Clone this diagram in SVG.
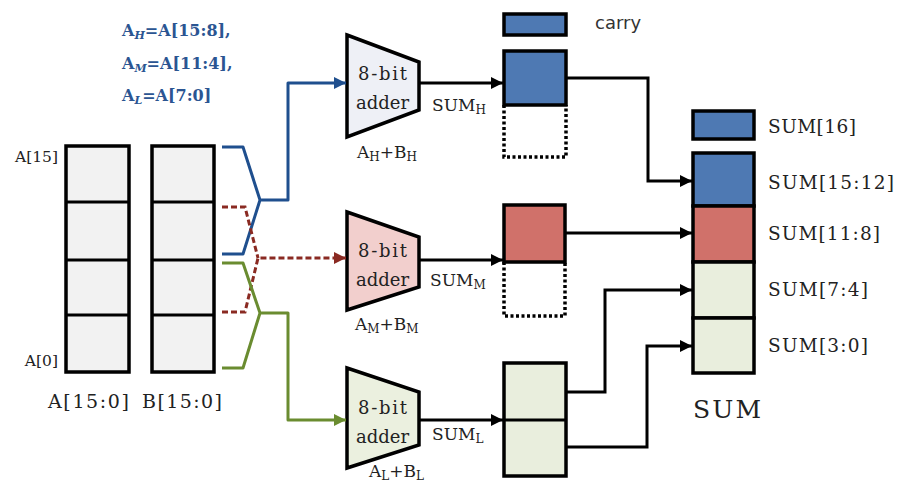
<svg xmlns="http://www.w3.org/2000/svg" width="898" height="486" viewBox="0 0 898 486">
<style>
.t{font-family:"DejaVu Serif","Liberation Serif",serif;fill:#222}
.f{font-family:"DejaVu Serif","Liberation Serif",serif;font-weight:bold;fill:#2b5592;font-size:16px}
.reg{stroke:#000;stroke-width:3.5;fill:#f2f2f2}
.blk{stroke:#000;stroke-width:3;fill:none}
.dot{stroke:#000;stroke-width:3.5;fill:none;stroke-dasharray:3,2.5}
.blu{fill:#4e79b3}
.red{fill:#d0716a}
.grn{fill:#e9eedd}
</style>
<defs>
<marker id="ak" viewBox="0 0 10 10" refX="10" refY="5" markerWidth="13" markerHeight="12" markerUnits="userSpaceOnUse" orient="auto"><path d="M0,0 L10,5 L0,10 z" fill="#000"/></marker>
<marker id="ab" viewBox="0 0 10 10" refX="10" refY="5" markerWidth="13" markerHeight="12" markerUnits="userSpaceOnUse" orient="auto"><path d="M0,0 L10,5 L0,10 z" fill="#1f4f8e"/></marker>
<marker id="ar" viewBox="0 0 10 10" refX="10" refY="5" markerWidth="13" markerHeight="12" markerUnits="userSpaceOnUse" orient="auto"><path d="M0,0 L10,5 L0,10 z" fill="#8a2a22"/></marker>
<marker id="ag" viewBox="0 0 10 10" refX="10" refY="5" markerWidth="13" markerHeight="12" markerUnits="userSpaceOnUse" orient="auto"><path d="M0,0 L10,5 L0,10 z" fill="#6a8c30"/></marker>
</defs>
<rect width="898" height="486" fill="#fff"/>

<g id="formula">
<text class="f" x="122" y="36">A<tspan font-size="11" font-style="italic" dy="3">H</tspan><tspan dy="-3">=A[15:8],</tspan></text>
<text class="f" x="122" y="69">A<tspan font-size="11" font-style="italic" dy="3">M</tspan><tspan dy="-3">=A[11:4],</tspan></text>
<text class="f" x="122" y="101">A<tspan font-size="11" font-style="italic" dy="3">L</tspan><tspan dy="-3">=A[7:0]</tspan></text>
</g>

<g id="regA">
<rect class="reg" x="66" y="146" width="63" height="226"/>
<line class="blk" x1="66" y1="202" x2="129" y2="202"/>
<line class="blk" x1="66" y1="260" x2="129" y2="260" stroke-width="3.5"/>
<line class="blk" x1="66" y1="315" x2="129" y2="315" stroke-width="4.5"/>
<text class="t" x="58" y="162" font-size="15.5" text-anchor="end">A[15]</text>
<text class="t" x="58" y="366" font-size="15.5" text-anchor="end">A[0]</text>
<text class="t" x="48" y="408" font-size="19" textLength="81">A[15:0]</text>
</g>
<g id="regB">
<rect class="reg" x="152" y="146" width="62" height="226"/>
<line class="blk" x1="152" y1="202" x2="214" y2="202"/>
<line class="blk" x1="152" y1="260" x2="214" y2="260" stroke-width="3.5"/>
<line class="blk" x1="152" y1="315" x2="214" y2="315" stroke-width="4.5"/>
<text class="t" x="142" y="408" font-size="19" textLength="80">B[15:0]</text>
</g>

<g id="adderH">
<path d="M347,35 L419,62 L419,110 L347,137 Z" fill="#eef0f6" stroke="#000" stroke-width="3.5"/>
<text class="t" x="358" y="80" font-size="18" textLength="49">8-bit</text>
<text class="t" x="356" y="109" font-size="18" textLength="53">adder</text>
<text class="t" x="357" y="158" font-size="17">A<tspan font-size="12" dy="3">H</tspan><tspan dy="-3">+B</tspan><tspan font-size="12" dy="3">H</tspan></text>
</g>
<g id="adderM">
<path d="M347,212 L419,237 L419,287 L347,310 Z" fill="#f2cfcd" stroke="#000" stroke-width="3.5"/>
<text class="t" x="358" y="257" font-size="18" textLength="49">8-bit</text>
<text class="t" x="356" y="286" font-size="18" textLength="53">adder</text>
<text class="t" x="355" y="330" font-size="17">A<tspan font-size="12" dy="3">M</tspan><tspan dy="-3">+B</tspan><tspan font-size="12" dy="3">M</tspan></text>
</g>
<g id="adderL">
<path d="M347,368 L419,392 L419,445 L347,468 Z" fill="#ebf0df" stroke="#000" stroke-width="3.5"/>
<text class="t" x="358" y="414" font-size="18" textLength="49">8-bit</text>
<text class="t" x="356" y="443" font-size="18" textLength="53">adder</text>
<text class="t" x="369" y="477" font-size="17">A<tspan font-size="12" dy="3">L</tspan><tspan dy="-3">+B</tspan><tspan font-size="12" dy="3">L</tspan></text>
</g>

<g id="labels">
<text class="t" x="432" y="111" font-size="17">SUM<tspan font-size="12" dy="3">H</tspan></text>
<text class="t" x="430" y="286" font-size="17">SUM<tspan font-size="12" dy="3">M</tspan></text>
<text class="t" x="432" y="440" font-size="17">SUM<tspan font-size="12" dy="3">L</tspan></text>
</g>

<g id="carry">
<rect class="blu" x="504" y="14" width="62" height="21" stroke="#000" stroke-width="3.5"/>
<text x="595" y="29" font-family="DejaVu Sans, Liberation Sans, sans-serif" font-size="18" fill="#333">carry</text>
</g>
<g id="boxH">
<path class="dot" d="M504,105 V157 H566 V105"/>
<rect class="blu" x="504" y="51" width="62" height="54" stroke="#000" stroke-width="3.5"/>
</g>
<g id="boxM">
<path class="dot" d="M504,262 V316 H565 V262"/>
<rect class="red" x="504" y="205" width="61" height="57" stroke="#000" stroke-width="3.5"/>
</g>
<g id="boxL">
<rect class="grn" x="504" y="363" width="62" height="113" stroke="#000" stroke-width="3.5"/>
<line class="blk" x1="504" y1="420" x2="566" y2="420"/>
</g>

<g id="sum">
<rect class="blu" x="693" y="111" width="61" height="28" stroke="#000" stroke-width="3.5"/>
<rect class="blu" x="693" y="153" width="61" height="53" stroke="#000" stroke-width="3.5"/>
<rect class="red" x="693" y="206" width="61" height="56" stroke="#000" stroke-width="3.5"/>
<rect class="grn" x="693" y="262" width="61" height="56" stroke="#000" stroke-width="3.5"/>
<rect class="grn" x="693" y="318" width="61" height="55" stroke="#000" stroke-width="3.5"/>
<text class="t" x="768" y="133" font-size="18.5" textLength="88">SUM[16]</text>
<text class="t" x="768" y="189" font-size="18.5" textLength="126">SUM[15:12]</text>
<text class="t" x="768" y="240" font-size="18.5" textLength="112">SUM[11:8]</text>
<text class="t" x="768" y="296" font-size="18.5" textLength="100">SUM[7:4]</text>
<text class="t" x="768" y="352" font-size="18.5" textLength="100">SUM[3:0]</text>
<text class="t" x="693" y="418" font-size="25" textLength="68">SUM</text>
</g>

<g id="connectors">
<path d="M222,147 H243 L260,200 M222,254 H243 L260,200 H288 V83 H346" fill="none" stroke="#1f4f8e" stroke-width="3" stroke-linejoin="round" marker-end="url(#ab)"/>
<path d="M222,207 H245 L258,258 M222,312 H245 L258,258 H346" fill="none" stroke="#8a2a22" stroke-width="3" stroke-dasharray="6,3" marker-end="url(#ar)"/>
<path d="M222,263 H243 L260,313 M222,368 H243 L260,313 H288 V420 H346" fill="none" stroke="#6a8c30" stroke-width="3" stroke-linejoin="round" marker-end="url(#ag)"/>
<path class="blk" d="M419,83 H503" marker-end="url(#ak)"/>
<path class="blk" d="M419,260 H503" marker-end="url(#ak)"/>
<path class="blk" d="M419,420 H503" marker-end="url(#ak)"/>
<path class="blk" d="M566,78 H648 V181 H692" marker-end="url(#ak)"/>
<path class="blk" d="M565,233 H692" marker-end="url(#ak)"/>
<path class="blk" d="M566,392 H605 V290 H692" marker-end="url(#ak)"/>
<path class="blk" d="M566,447 H647 V346 H692" marker-end="url(#ak)"/>
</g>
</svg>
